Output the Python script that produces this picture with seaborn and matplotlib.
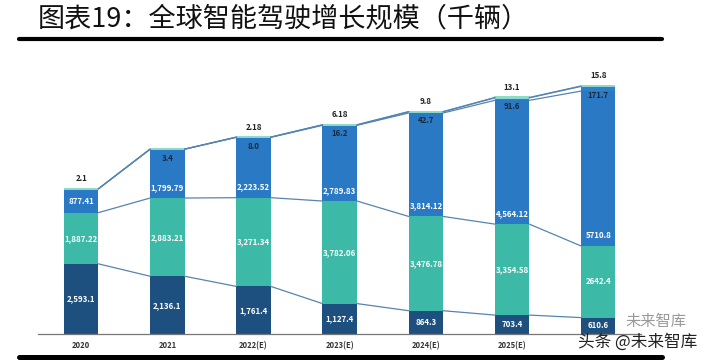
import matplotlib
matplotlib.use('Agg')
import matplotlib.pyplot as plt
import seaborn as sns
import numpy as np
import pandas as pd

years = ['2020', '2021', '2022(E)', '2023(E)', '2024(E)', '2025(E)', '2026(E)']
l01 = [2593.1, 2136.1, 1761.4, 1127.4, 864.3, 703.4, 610.6]
l2 = [1887.22, 2883.21, 3271.34, 3782.06, 3476.78, 3354.58, 2642.4]
l3 = [877.41, 1799.79, 2223.52, 2789.83, 3814.12, 4564.12, 5710.8]
l4 = [0, 3.4, 8.0, 16.2, 42.7, 91.6, 171.7]
l5 = [2.1, 0, 2.18, 6.18, 9.8, 13.1, 15.8]

l01_txt = ['2,593.1', '2,136.1', '1,761.4', '1,127.4', '864.3', '703.4', '610.6']
l2_txt = ['1,887.22', '2,883.21', '3,271.34', '3,782.06', '3,476.78', '3,354.58', '2642.4']
l3_txt = ['877.41', '1,799.79', '2,223.52', '2,789.83', '3,814.12', '4,564.12', '5710.8']
l4_txt = ['', '3.4', '8.0', '16.2', '42.7', '91.6', '171.7']
l5_txt = ['2.1', '', '2.18', '6.18', '9.8', '13.1', '15.8']

df = pd.DataFrame({'year': years, 'l01': l01, 'l2': l2, 'l3': l3, 'l4': l4, 'l5': l5})

sns.set_style('white')
plt.rcParams['font.family'] = ['Noto Sans CJK SC', 'DejaVu Sans']

fig = plt.figure(figsize=(7.04, 3.64), dpi=100)
ax = fig.add_axes([0.054, 0.082, 0.857, 0.745])

series = ['l01', 'l2', 'l3', 'l4', 'l5']
colors = ['#1d4f7f', '#3cb9a7', '#2a79c4', '#2f7fcb', '#8edbc9']
edges = [None, None, None, None, '#8edbc9']
bottom = np.zeros(len(years))
tops = []
for s, c, e in zip(series, colors, edges):
    kw = dict(edgecolor=e, linewidth=1.4) if e else dict(linewidth=0)
    sns.barplot(data=df, x='year', y=s, bottom=bottom, color=c, width=0.4,
                saturation=1, errorbar=None, ax=ax, **kw)
    bottom = bottom + df[s].values
    tops.append(bottom.copy())

# lines joining the layers of neighbouring bars
hw = 0.2
for t in tops:
    for i in range(len(years) - 1):
        ax.plot([i + hw, i + 1 - hw], [t[i], t[i + 1]], color='#5684b0', lw=0.9)

lab = dict(ha='center', va='center', fontsize=5.7, fontweight='bold')
for i in range(len(years)):
    ax.text(i, l01[i] / 2, l01_txt[i], color='white', **lab)
    ax.text(i, l01[i] + l2[i] / 2, l2_txt[i], color='white', **lab)
    b3 = l01[i] + l2[i]
    ax.text(i, b3 + min(400, l3[i] / 2), l3_txt[i], color='white', **lab)
    if l4_txt[i]:
        ax.text(i, tops[3][i] - 330, l4_txt[i], color='#1a2a3a', **lab)
    if l5_txt[i]:
        ax.text(i, tops[4][i] + 370, l5_txt[i], color='#222222', **lab)

ax.set_xlim(-0.5, len(years) - 0.5)
ax.set_ylim(0, 10000)
ax.set_yticks([])
ax.set_xlabel('')
ax.set_ylabel('')
sns.despine(ax=ax, left=True)
ax.spines['bottom'].set_color('#777777')
ax.spines['bottom'].set_linewidth(0.9)
ax.set_xticks(range(len(years)))
ax.set_xticklabels(years, fontsize=5.5, fontweight='bold', color='#333333')
# last label sits under the watermark in the source image
ax.get_xticklabels()[-1].set_visible(False)
ax.tick_params(axis='x', length=0, pad=5)
ax.set_xticks(np.arange(-0.5, len(years) - 0.4, 1), minor=True)
ax.tick_params(axis='x', which='minor', length=3, color='#777777', width=0.8)

fig.text(0.054, 0.948, '图表19：全球智能驾驶增长规模（千辆）', fontsize=19.5,
         fontweight='light', ha='left', va='center', color='#111111')
fig.add_artist(plt.Line2D([0.027, 0.940], [0.894, 0.894], color='black', lw=3))
fig.add_artist(plt.Line2D([0.027, 0.940], [0.020, 0.020], color='black', lw=3.6))

fig.text(0.99, 0.035, '头条 @未来智库', fontsize=12, ha='right', va='bottom',
         color='#222222')
fig.text(0.975, 0.095, '未来智库', fontsize=11, ha='right', va='bottom',
         color='#555555', alpha=0.6)

fig.savefig('out.png', dpi=100)
